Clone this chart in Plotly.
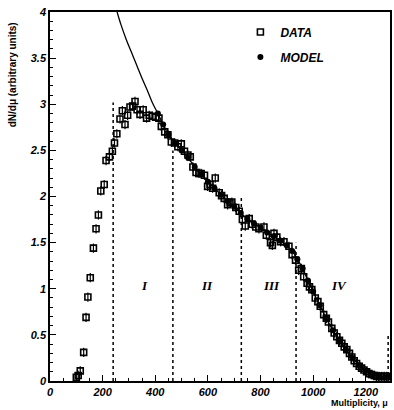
import plotly.graph_objects as go

# ---- data ----
data_mu = [100, 107, 115, 128, 137, 144, 153, 165, 175, 184, 193, 206, 213, 226, 237, 245, 254, 266,
           275, 285, 295, 304, 314, 323, 331, 342, 354, 367, 377, 389, 402, 414, 423, 436, 448, 461,
           474, 486, 499, 511, 524, 533, 543, 555, 566, 574, 587, 599, 608, 618, 628, 643, 652, 662,
           675, 684, 691, 706, 719, 731, 742, 757, 768, 782, 794, 813, 822, 838, 845, 851, 862, 876,
           889, 908, 920, 933, 945, 955, 964, 977, 986, 995, 1008, 1018, 1027, 1040, 1050, 1058, 1071,
           1080, 1090, 1100, 1109, 1118, 1128, 1138, 1147, 1156, 1165, 1175, 1184, 1193, 1203, 1212,
           1222, 1232, 1241, 1250, 1260, 1270, 1279]
data_val = [0.04, 0.06, 0.11, 0.31, 0.69, 0.91, 1.12, 1.44, 1.65, 1.80, 2.06, 2.13, 2.39, 2.43, 2.49,
            2.58, 2.68, 2.84, 2.93, 2.78, 2.88, 2.97, 2.98, 3.03, 2.94, 2.89, 2.94, 2.85, 2.88, 2.87,
            2.86, 2.85, 2.76, 2.70, 2.67, 2.59, 2.58, 2.54, 2.57, 2.49, 2.45, 2.43, 2.32, 2.26, 2.25,
            2.25, 2.23, 2.11, 2.13, 2.09, 2.20, 2.04, 2.01, 1.98, 1.91, 1.93, 1.94, 1.88, 1.84, 1.75,
            1.68, 1.76, 1.70, 1.67, 1.65, 1.67, 1.58, 1.50, 1.47, 1.60, 1.56, 1.51, 1.51, 1.46, 1.37,
            1.31, 1.20, 1.22, 1.13, 1.06, 1.02, 0.99, 0.90, 0.86, 0.81, 0.72, 0.68, 0.64, 0.57, 0.52,
            0.48, 0.44, 0.41, 0.37, 0.34, 0.30, 0.26, 0.22, 0.19, 0.16, 0.14, 0.12, 0.10, 0.08, 0.07,
            0.06, 0.05, 0.05, 0.05, 0.05, 0.05]
data_err = 0.05

model_mu = [255, 270, 290, 310, 330, 350, 370, 390, 410, 430, 450, 475, 500, 525, 550, 575, 600,
            625, 650, 675, 700, 725, 750, 775, 800, 825, 850, 875, 900, 920, 940, 960, 980, 1000,
            1025, 1050, 1075, 1100, 1125, 1150, 1175, 1200, 1225, 1250, 1275, 1290]
model_val = [4.00, 3.86, 3.70, 3.56, 3.42, 3.28, 3.15, 3.01, 2.90, 2.78, 2.67, 2.58, 2.50, 2.42,
             2.32, 2.24, 2.16, 2.09, 2.02, 1.95, 1.89, 1.82, 1.76, 1.71, 1.66, 1.61, 1.57, 1.52,
             1.47, 1.41, 1.32, 1.22, 1.09, 0.97, 0.82, 0.68, 0.55, 0.44, 0.34, 0.25, 0.17, 0.11,
             0.07, 0.05, 0.04, 0.04]
model_marker_start = 405

bound_mu = [240, 467, 727, 935, 1285]
bound_top = [3.02, 2.50, 2.00, 1.50, 0.50]

region_labels = ["I", "II", "III", "IV"]
region_mu = [360, 595, 840, 1097]
region_y = 1.04

x_major = [0, 200, 400, 600, 800, 1000, 1200]
y_major = [0, 0.5, 1, 1.5, 2, 2.5, 3, 3.5, 4]

FONT = "Liberation Sans"

fig = go.Figure()

# dotted region boundaries
for m, t in zip(bound_mu, bound_top):
    fig.add_shape(type="line", x0=m, x1=m, y0=0, y1=t, xref="x", yref="y",
                  line=dict(color="black", width=1.5, dash="dot"))

# model line
fig.add_trace(go.Scatter(x=model_mu, y=model_val, mode="lines",
                         line=dict(color="black", width=1.3, shape="spline"),
                         showlegend=False, hoverinfo="skip"))

# data
fig.add_trace(go.Scatter(x=data_mu, y=data_val, mode="markers", name="DATA",
                         marker=dict(symbol="square-open", size=6, color="black",
                                     line=dict(width=1.6, color="black")),
                         error_y=dict(type="constant", value=data_err, color="black",
                                      thickness=1.2, width=0),
                         legendgroup="d"))

# model markers
mm_x = [m for m in model_mu if m >= model_marker_start]
mm_y = [v for m, v in zip(model_mu, model_val) if m >= model_marker_start]
fig.add_trace(go.Scatter(x=mm_x, y=mm_y, mode="markers", name="MODEL",
                         marker=dict(symbol="circle", size=6, color="black"),
                         legendgroup="m"))

for lab, m in zip(region_labels, region_mu):
    fig.add_annotation(x=m, y=region_y, text=lab, showarrow=False,
                       font=dict(family="Liberation Serif", size=13, color="black",
                                 weight="bold", style="italic"))

fig.add_annotation(x=1.0, y=-0.04, xref="paper", yref="paper", text="Multiplicity, μ",
                   showarrow=False, xanchor="right", yanchor="top",
                   font=dict(family=FONT, size=9, color="black", weight="bold"))

fig.add_annotation(x=-0.11, y=0.83, xref="paper", yref="paper",
                   text="dN/dμ (arbitrary units)", textangle=-90, showarrow=False,
                   xanchor="center", yanchor="middle",
                   font=dict(family=FONT, size=10, color="black", weight="bold"))

axis_common = dict(showgrid=False, zeroline=False, showline=True, linecolor="black",
                   linewidth=1.5, mirror=True, ticks="inside", ticklen=6, tickwidth=1.3,
                   tickcolor="black",
                   tickfont=dict(family=FONT, size=11, color="black", weight="bold",
                                 style="italic"))

fig.update_xaxes(range=[0, 1292], tickvals=x_major, ticktext=[str(v) for v in x_major],
                 minor=dict(dtick=50, ticklen=3, tickwidth=1, tickcolor="black", ticks="inside"),
                 **axis_common)
fig.update_yaxes(range=[0, 4], tickvals=y_major,
                 ticktext=["0", "0.5", "1", "1.5", "2", "2.5", "3", "3.5", "4"],
                 minor=dict(dtick=0.1, ticklen=3, tickwidth=1, tickcolor="black", ticks="inside"),
                 **axis_common)

fig.update_layout(
    width=394, height=410,
    margin=dict(l=50, r=2, t=12, b=29),
    paper_bgcolor="white", plot_bgcolor="white",
    showlegend=True,
    legend=dict(x=0.56, y=0.985, xanchor="left", yanchor="top", bgcolor="rgba(0,0,0,0)",
                tracegroupgap=6,
                font=dict(family=FONT, size=12, color="black", weight="bold", style="italic")),
)

fig.write_html("out.html")
